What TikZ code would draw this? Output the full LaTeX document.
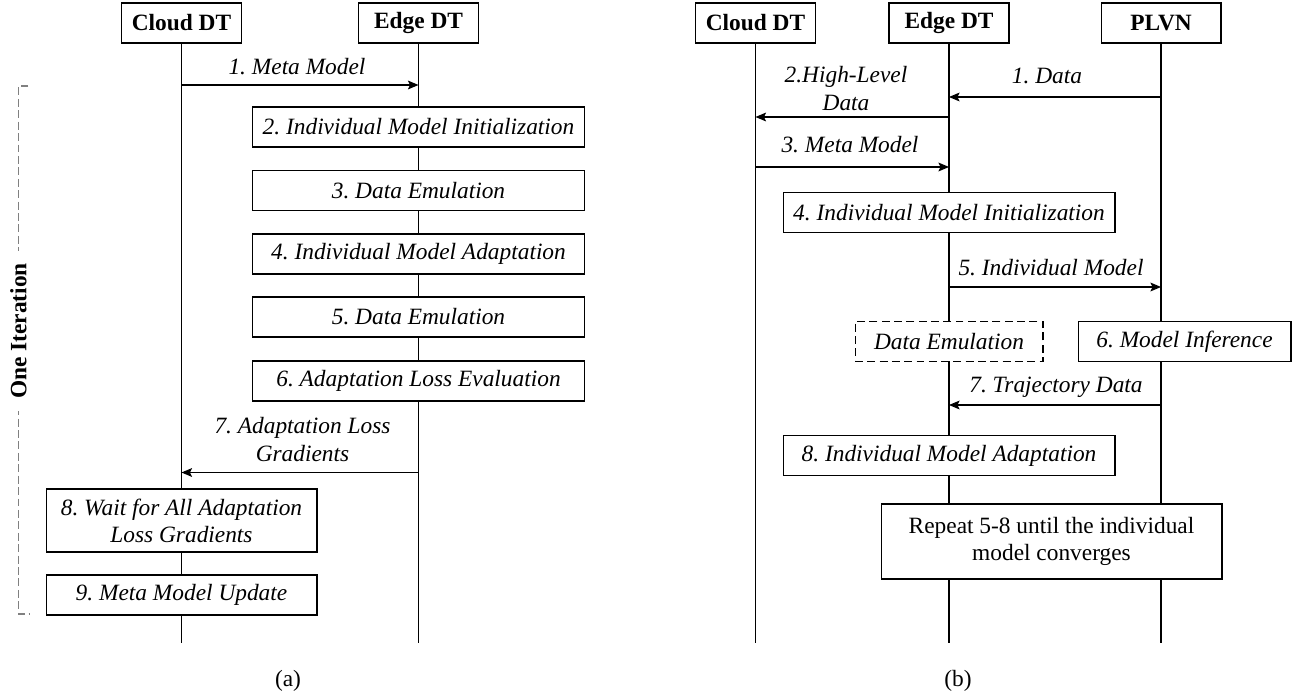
\documentclass[tikz,border=0pt]{standalone}
\usepackage{fontspec}
\setmainfont{Liberation Serif}
\usetikzlibrary{arrows.meta,positioning}
\newcommand{\seqfont}{\fontsize{13.3}{15.4}\selectfont\frenchspacing}
\tikzset{
  actor/.style={draw,fill=white,line width=0.6pt,font=\seqfont\bfseries,minimum width=2.4cm,minimum height=0.8cm,inner sep=0pt},
  stepbox/.style={draw,fill=white,line width=0.6pt,font=\seqfont\itshape,minimum width=#1,minimum height=0.8cm,align=center,inner sep=0pt},
  stepbox/.default=6.64cm,
  ghost/.style={stepbox=#1,dash pattern=on 4.5pt off 2.5pt},
  life/.style={line width=0.6pt},
  msg/.style={-{Stealth[length=6pt,width=5pt,inset=1.2pt]},line width=0.6pt},
  lbl/.style={font=\seqfont\itshape,align=center,inner sep=0pt},
  subcap/.style={font=\seqfont,inner sep=0pt}
}

\begin{document}
\begin{tikzpicture}[x=0.02cm,y=-0.02cm]
    \useasboundingbox (0,0) rectangle (1294,696);

    % (a) Nodes
    \node[actor] (cloudA) at (181.5,23) {Cloud DT};
    \node[actor] (edgeA) at (418.5,23) {Edge DT};
    \coordinate (endA) at (0,643);
    \draw[life] (cloudA) -- (cloudA |- endA);
    \draw[life] (edgeA) -- (edgeA |- endA);

    \node[lbl] (lA1) at (297,67) {1. Meta Model};
    \node[stepbox] (sA2) at (edgeA |- 0,127) {2. Individual Model Initialization};
    \node[stepbox] (sA3) at (edgeA |- 0,190.5) {3. Data Emulation};
    \node[stepbox] (sA4) at (edgeA |- 0,254) {4. Individual Model Adaptation};
    \node[stepbox] (sA5) at (edgeA |- 0,317) {5. Data Emulation};
    \node[stepbox] (sA6) at (edgeA |- 0,381) {6. Adaptation Loss Evaluation};
    \node[lbl] (lA7) at (302.5,439.5) {7. Adaptation Loss\\Gradients};
    \node[stepbox=5.42cm,minimum height=1.26cm] (sA8) at (cloudA |- 0,520.5) {8. Wait for All Adaptation\\Loss Gradients};
    \node[stepbox=5.42cm] (sA9) at (cloudA |- 0,595) {9. Meta Model Update};
    \node[subcap] (capA) at (288,681) {(a)};

    % (a) Paths
    \coordinate (mA1) at (0,85);
    \coordinate (mA7) at (0,472.5);
    \draw[msg] (cloudA |- mA1) -- (edgeA |- mA1);
    \draw[msg] (edgeA |- mA7) -- (cloudA |- mA7);

    % iteration bracket
    \coordinate (itTop) at (18.5,86);
    \coordinate (itBot) at (18.5,614);
    \draw[gray,line width=0.6pt,dash pattern=on 4.5pt off 2pt]
      ([xshift=0.2cm]itTop) -- (itTop) -- (itBot) -- ([xshift=0.23cm]itBot);
    \node[fill=white,font=\seqfont\bfseries,rotate=90,inner xsep=7pt,inner ysep=1pt] (iter) at (18.5,331) {One Iteration};

    % (b) Nodes
    \node[actor] (cloudB) at (755.5,23) {Cloud DT};
    \node[actor] (edgeB) at (949,23) {Edge DT};
    \node[actor] (plvnB) at (1161,23) {PLVN};
    \coordinate (endB) at (0,643);
    \draw[life] (cloudB) -- (cloudB |- endB);
    \draw[life] (edgeB) -- (edgeB |- endB);
    \draw[life] (plvnB) -- (plvnB |- endB);

    \node[lbl] (lB1) at (1047,76) {1. Data};
    \node[lbl] (lB2) at (846,88.5) {2.High-Level\\Data};
    \node[lbl] (lB3) at (850,145) {3. Meta Model};
    \node[stepbox] (sB4) at (edgeB |- 0,212.5) {4. Individual Model Initialization};
    \node[lbl] (lB5) at (1051,268) {5. Individual Model};
    \node[ghost=3.76cm] (emuB) at (edgeB |- 0,341.5) {Data Emulation};
    \node[stepbox=4.26cm] (sB6) at (1184.5,341.5) {6. Model Inference};
    \node[lbl] (lB7) at (1056,387) {7. Trajectory Data};
    \node[stepbox] (sB8) at (edgeB |- 0,455.5) {8. Individual Model Adaptation};
    \node[stepbox=6.82cm,minimum height=1.5cm,font=\seqfont] (rep) at (1051.5,541.5) {Repeat 5-8 until the individual\\model converges};
    \node[subcap] (capB) at (958,681) {(b)};

    % (b) Paths
    \coordinate (mB1) at (0,97);
    \coordinate (mB2) at (0,117);
    \coordinate (mB3) at (0,167);
    \coordinate (mB5) at (0,287);
    \coordinate (mB7) at (0,405);
    \draw[msg] (plvnB |- mB1) -- (edgeB |- mB1);
    \draw[msg] (edgeB |- mB2) -- (cloudB |- mB2);
    \draw[msg] (cloudB |- mB3) -- (edgeB |- mB3);
    \draw[msg] (edgeB |- mB5) -- (plvnB |- mB5);
    \draw[msg] (plvnB |- mB7) -- (edgeB |- mB7);
  \end{tikzpicture}
\end{document}
